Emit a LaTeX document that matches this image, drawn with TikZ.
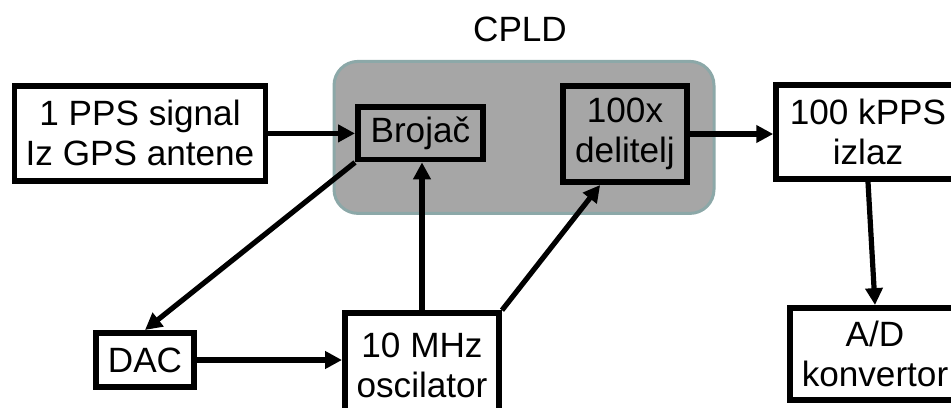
\documentclass[tikz,border=0pt]{standalone}
\usepackage{fontspec}
\setmainfont{Liberation Sans}
\usetikzlibrary{positioning,arrows.meta}
\definecolor{cpldfill}{HTML}{A6A6A6}
\definecolor{cpldline}{HTML}{8CA8A8}

\begin{document}
\begin{tikzpicture}[
  font=\fontsize{25}{28.5}\selectfont,
  >={Triangle[length=12pt,width=12pt]},
  blk/.style={draw,line width=0.14cm,fill=white,align=center,inner sep=0pt},
  flow/.style={->,line width=0.13cm}
]
\useasboundingbox (0,0) rectangle (23.775,10.175);
\clip (0,0) rectangle (23.775,10.175);

\node[draw=cpldline,fill=cpldfill,line width=0.075cm,rounded corners=0.6cm,
  minimum width=9.5cm,minimum height=3.8cm] (cpld) at (13.1,6.74) {};
\node (cpldlbl) at (13.0,9.43) {CPLD};

\node[blk,minimum width=6.28cm,minimum height=2.38cm] (pps) at (3.5,6.84)
  {1 PPS signal\\Iz GPS antene};
\node[blk,fill=none,minimum width=3.13cm,minimum height=1.31cm] (brojac) at (10.51,6.84) {Brojač};
\node[blk,fill=none,minimum width=3.11cm,minimum height=2.41cm] (delitelj) at (15.625,6.825)
  {100x\\delitelj};
\node[blk,minimum width=4.6cm,minimum height=2.36cm] (kpps) at (21.7,6.875)
  {100 kPPS\\izlaz};
\node[blk,minimum width=4.26cm,minimum height=2.31cm] (ad) at (21.875,1.325)
  {A/D\\konvertor};
\node[blk,minimum width=2.46cm,minimum height=1.36cm] (dac) at (3.625,1.175) {DAC};
\node[blk,minimum width=3.86cm,minimum height=2.6cm] (osc) at (10.55,1.05)
  {10 MHz\\oscilator};

\draw[flow] (pps.east) -- (brojac.west);
\draw[flow] (brojac.south west) -- (dac.north);
\draw[flow] (dac.east) -- (dac.east -| osc.west);
\draw[flow] (osc.north) -- (osc.north |- brojac.south);
\draw[flow] (osc.north east) -- (delitelj.-116);
\draw[flow] (delitelj.east) -- (delitelj.east -| kpps.west);
\draw[flow] (kpps.south) -- (ad.north);
\end{tikzpicture}
\end{document}
